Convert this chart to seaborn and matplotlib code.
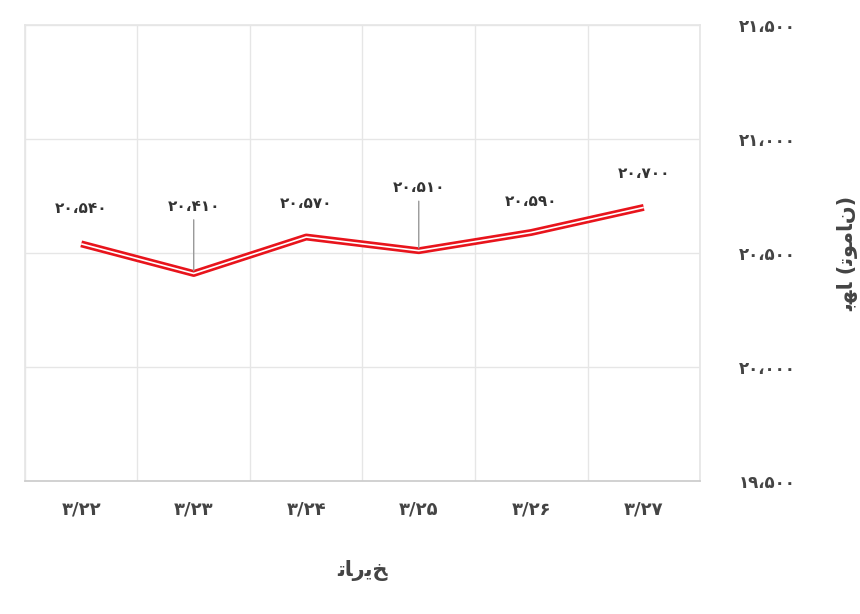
import matplotlib
matplotlib.use("Agg")
import matplotlib.pyplot as plt
import seaborn as sns
import pandas as pd

dates = ["3/22", "3/23", "3/24", "3/25", "3/26", "3/27"]
prices = [20540, 20410, 20570, 20510, 20590, 20700]
yticks = [19500, 20000, 20500, 21000, 21500]
label_dy = [20, 43, 19, 40, 17, 19]
leader = [False, True, False, True, False, False]

FA = str.maketrans("0123456789", "۰۱۲۳۴۵۶۷۸۹")
def fa(n):
    return f"{n:,}".replace(",", "،").translate(FA)
def fad(s):
    return s.translate(FA)

sns.set_theme(style="white")
plt.rcParams['font.family'] = ['DejaVu Sans']

df = pd.DataFrame({"x": range(len(dates)), "y": prices})
fig = plt.figure(figsize=(8.6, 6.14), dpi=100)
ax = fig.add_axes([0.029, 0.217, 0.785, 0.742])
sns.lineplot(data=df, x="x", y="y", ax=ax, color="#e8141c", lw=5, solid_capstyle="butt")
sns.lineplot(data=df, x="x", y="y", ax=ax, color="white", lw=1.2, solid_capstyle="butt")
ax.set_xlim(-0.5, len(dates) - 0.5)
ax.set_ylim(19500, 21500)
for i in range(len(dates) + 1):
    ax.axvline(i - 0.5, color="#e6e6e6", lw=1, zorder=0)
for t in yticks:
    ax.axhline(t, color="#e6e6e6", lw=1, zorder=0)
for s in ax.spines.values():
    s.set_color("#e6e6e6")
ax.spines["bottom"].set_color("#cccccc")
ax.set_xticks(range(len(dates)))
ax.set_xticklabels([fad(d) for d in dates], fontsize=13, color="#444444", fontweight="bold")
ax.set_yticks(yticks)
ax.set_yticklabels([fa(t) for t in yticks], fontsize=12, color="#444444", fontweight="bold")
ax.yaxis.tick_right()
ax.tick_params(axis="y", length=0, pad=28)
ax.tick_params(axis="x", length=0, pad=14)
ax.set_xlabel("\uFE97\uFE8E\uFEAD\uFBFE\uFEA6", fontsize=15, color="#444444", labelpad=30, fontweight="bold")
ax.yaxis.set_label_position("right")
ax.set_ylabel("\uFE91\uFEEC\uFE8E (\uFE97\uFEEE\uFEE3\uFE8E\uFEE5)", fontsize=15, color="#444444", labelpad=30, fontweight="bold")
for i, (p, dy, ld) in enumerate(zip(prices, label_dy, leader)):
    ax.annotate(fa(p), (i, p), xytext=(0, dy), textcoords="offset points",
                ha="center", va="bottom", fontsize=11, color="#333333", fontweight="bold",
                arrowprops=dict(arrowstyle="-", color="#999999", lw=1, shrinkA=2, shrinkB=2) if ld else None)
fig.savefig("out.png", dpi=100)
